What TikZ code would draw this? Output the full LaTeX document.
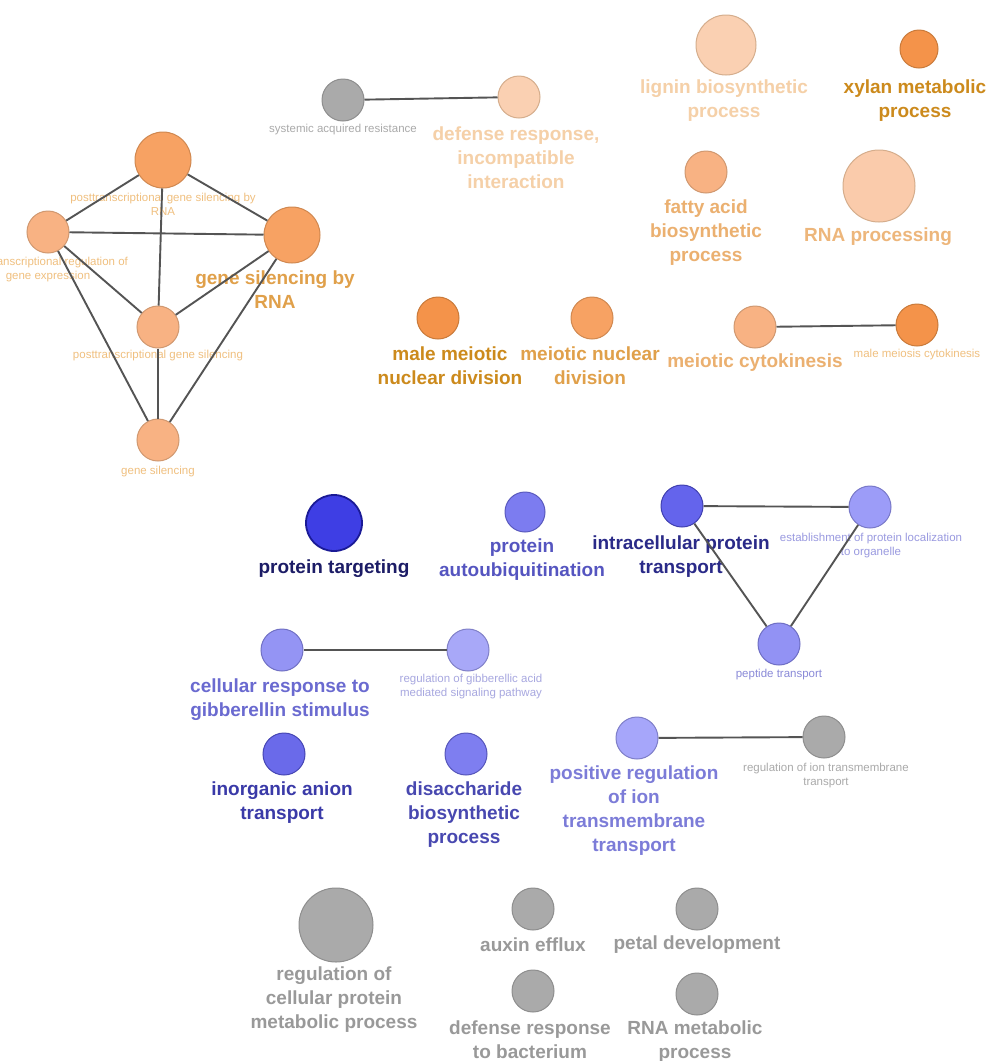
\documentclass[tikz,border=0pt]{standalone}
\usepackage{fontspec}
\setmainfont{Liberation Sans}
\begin{document}
\begin{tikzpicture}[x=1pt,y=-1pt,
  nd/.style={circle,inner sep=0pt,line width=1pt},
  bl/.style={font=\bfseries\fontsize{19}{24}\selectfont,align=center,inner sep=0pt},
  sl/.style={font=\fontsize{11.5}{14}\selectfont,align=center,inner sep=0pt},
  edge/.style={draw=black!67,line width=1.9pt},
  o1/.style={nd,fill=oA,draw=oAd},
  o2/.style={nd,fill=oB,draw=oBd},
  o3/.style={nd,fill=oC,draw=oCd},
  o4/.style={nd,fill=oD,draw=oDd},
  gr/.style={nd,fill=gF,draw=gD},
]
\definecolor{oA}{HTML}{F4934A}\definecolor{oAd}{HTML}{C97A3A}
\definecolor{oB}{HTML}{F7A263}\definecolor{oBd}{HTML}{D08850}
\definecolor{oC}{HTML}{F8B283}\definecolor{oCd}{HTML}{D09870}
\definecolor{oD}{HTML}{FAD0B2}\definecolor{oDd}{HTML}{D5AD8C}
\definecolor{gF}{HTML}{AAAAAA}\definecolor{gD}{HTML}{8E8E8E}
\definecolor{tO1}{HTML}{CC8A1C}\definecolor{tO2}{HTML}{E0A04A}
\definecolor{tO3}{HTML}{EBB070}\definecolor{tO4}{HTML}{F5D0A8}
\definecolor{tOs}{HTML}{F0C080}\definecolor{tG}{HTML}{999999}
\definecolor{tGs}{HTML}{AAAAAA}
\useasboundingbox[fill=white] (0,0) rectangle (991,1061);

% ---------- orange cluster ----------
\node[o2,minimum size=56pt] (A) at (163,160) {};
\node[o3,minimum size=42pt] (B) at (48,232) {};
\node[o2,minimum size=56pt] (C) at (292,235) {};
\node[o3,minimum size=42pt] (D) at (158,327) {};
\node[o3,minimum size=42pt] (E) at (158,440) {};
\node[sl,text=tOs] (lA) at (163,204) {posttranscriptional gene silencing by\\RNA};
\node[sl,text=tOs] (lB) at (48,270) {posttranscriptional regulation of\\gene expression};
\node[sl,text=tOs] (lD) at (158,356) {posttranscriptional gene silencing};
\node[sl,text=tOs] (lE) at (158,472) {gene silencing};
\node[bl,text=tO2] (lC) at (275,290) {gene silencing by\\RNA};
\foreach \a/\b in {A/B,A/C,A/D,B/C,B/D,B/E,C/D,C/E,D/E}
  \draw[edge] (\a) -- (\b);

% ---------- top middle ----------
\node[gr,minimum size=42pt] (sar) at (343,100) {};
\node[o4,minimum size=42pt] (dri) at (519,97) {};
\draw[edge] (sar) -- (dri);
\node[sl,text=tGs] (lsar) at (343,130) {systemic acquired resistance};
\node[bl,text=tO4] (ldri) at (516,158) {defense response,\\incompatible\\interaction};

% ---------- top right ----------
\node[o4,minimum size=60pt] (lig) at (726,45) {};
\node[bl,text=tO4] (llig) at (724,101) {lignin biosynthetic\\process};
\node[o1,minimum size=38pt] (xyl) at (919,49) {};
\node[bl,text=tO1] (lxyl) at (915,101) {xylan metabolic\\process};
\node[o3,minimum size=42pt] (fat) at (706,172) {};
\node[bl,text=tO3] (lfat) at (706,233) {fatty acid\\biosynthetic\\process};
\node[o4,minimum size=72pt,fill=oD!85!oC] (rnp) at (879,186) {};
\node[bl,text=tO3!80!tO4] (lrnp) at (878,237) {RNA processing};

% ---------- meiotic row ----------
\node[o1,minimum size=42pt] (mmnd) at (438,318) {};
\node[bl,text=tO1] (lmmnd) at (450,366) {male meiotic\\nuclear division};
\node[o2,minimum size=42pt] (mnd) at (592,318) {};
\node[bl,text=tO2] (lmnd) at (590,366) {meiotic nuclear\\division};
\node[o3,minimum size=42pt] (mc) at (755,327) {};
\node[bl,text=tO3] (lmc) at (755,363) {meiotic cytokinesis};
\node[o1,minimum size=42pt] (mmc) at (917,325) {};
\node[sl,text=tOs] (lmmc) at (917,355) {male meiosis cytokinesis};
\draw[edge] (mc) -- (mmc);

% ---------- blue ----------
\node[nd,minimum size=56pt,fill={rgb,255:red,62;green,62;blue,228},draw={rgb,255:red,26;green,26;blue,150},line width=1.8pt] (pt) at (334,523) {};
\node[bl,text={rgb,255:red,28;green,28;blue,102}] (lpt) at (334,569) {protein targeting};
\node[nd,minimum size=40pt,fill={rgb,255:red,124;green,124;blue,240},draw={rgb,255:red,90;green,90;blue,190}] (pa) at (525,512) {};
\node[bl,text={rgb,255:red,85;green,85;blue,192}] (lpa) at (522,560) {protein\\autoubiquitination};
\node[nd,minimum size=42pt,fill={rgb,255:red,100;green,100;blue,236},draw={rgb,255:red,64;green,64;blue,176}] (ipt) at (682,506) {};
\node[nd,minimum size=42pt,fill={rgb,255:red,156;green,156;blue,248},draw={rgb,255:red,120;green,120;blue,200}] (epl) at (870,507) {};
\node[nd,minimum size=42pt,fill={rgb,255:red,146;green,146;blue,244},draw={rgb,255:red,110;green,110;blue,196}] (ptr) at (779,644) {};
\node[bl,text={rgb,255:red,42;green,42;blue,136}] (lipt) at (681,557) {intracellular protein\\transport};
\node[sl,text={rgb,255:red,154;green,154;blue,224}] (lepl) at (871,546) {establishment of protein localization\\to organelle};
\node[sl,text={rgb,255:red,138;green,138;blue,216}] (lptr) at (779,675) {peptide transport};
\draw[edge] (ipt) -- (epl);
\draw[edge] (ipt) -- (ptr);
\draw[edge] (epl) -- (ptr);

\node[nd,minimum size=42pt,fill={rgb,255:red,148;green,148;blue,244},draw={rgb,255:red,112;green,112;blue,196}] (crg) at (282,650) {};
\node[nd,minimum size=42pt,fill={rgb,255:red,168;green,168;blue,248},draw={rgb,255:red,128;green,128;blue,200}] (rga) at (468,650) {};
\draw[edge] (crg) -- (rga);
\node[bl,text={rgb,255:red,106;green,106;blue,208}] (lcrg) at (280,700) {cellular response to\\gibberellin stimulus};
\node[sl,text={rgb,255:red,168;green,168;blue,224}] (lrga) at (471,687) {regulation of gibberellic acid\\mediated signaling pathway};

\node[nd,minimum size=42pt,fill={rgb,255:red,106;green,106;blue,234},draw={rgb,255:red,70;green,70;blue,180}] (iat) at (284,754) {};
\node[bl,text={rgb,255:red,58;green,58;blue,168}] (liat) at (282,803) {inorganic anion\\transport};
\node[nd,minimum size=42pt,fill={rgb,255:red,126;green,126;blue,240},draw={rgb,255:red,86;green,86;blue,186}] (dbp) at (466,754) {};
\node[bl,text={rgb,255:red,72;green,72;blue,176}] (ldbp) at (464,815) {disaccharide\\biosynthetic\\process};
\node[nd,minimum size=42pt,fill={rgb,255:red,166;green,166;blue,250},draw={rgb,255:red,126;green,126;blue,200}] (pri) at (637,738) {};
\node[bl,text={rgb,255:red,124;green,124;blue,216}] (lpri) at (634,811) {positive regulation\\of ion\\transmembrane\\transport};
\node[gr,minimum size=42pt] (rit) at (824,737) {};
\node[sl,text=tGs] (lrit) at (826,776) {regulation of ion transmembrane\\transport};
\draw[edge] (pri) -- (rit);

% ---------- gray bottom ----------
\node[gr,minimum size=74pt] (rcp) at (336,925) {};
\node[bl,text=tG] (lrcp) at (334,1000) {regulation of\\cellular protein\\metabolic process};
\node[gr,minimum size=42pt] (aux) at (533,909) {};
\node[bl,text=tG] (laux) at (533,945) {auxin efflux};
\node[gr,minimum size=42pt] (pet) at (697,909) {};
\node[bl,text=tG] (lpet) at (697,945) {petal development};
\node[gr,minimum size=42pt] (drb) at (533,991) {};
\node[bl,text=tG] (ldrb) at (530,1040) {defense response\\to bacterium};
\node[gr,minimum size=42pt] (rmp) at (697,994) {};
\node[bl,text=tG] (lrmp) at (695,1042) {RNA metabolic\\process};
\end{tikzpicture}
\end{document}
